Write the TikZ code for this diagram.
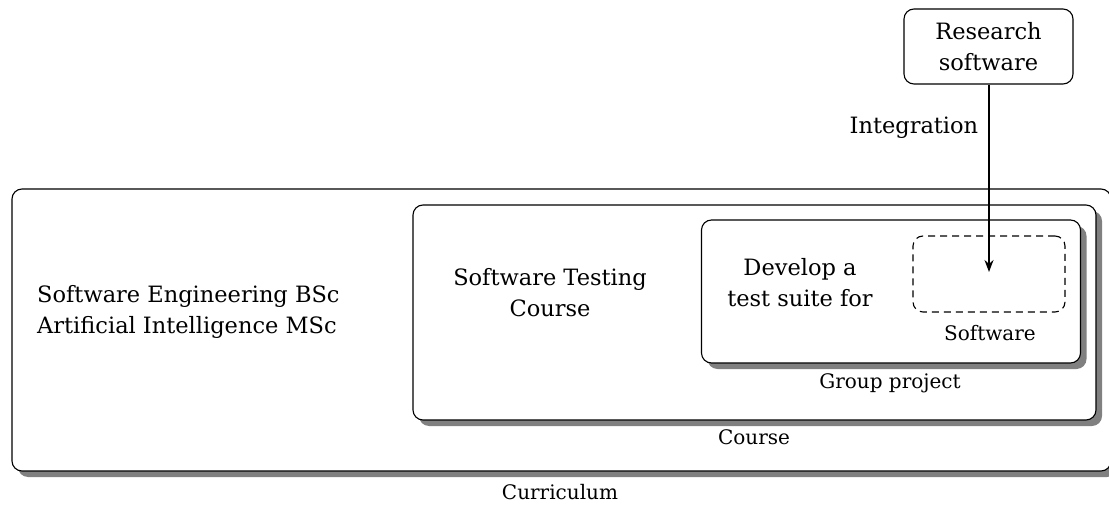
\documentclass[tikz,border=0pt]{standalone}
\usepackage{fontspec}
\setmainfont{DejaVu Serif}
\usetikzlibrary{shadows,arrows.meta}
\tikzset{
  box/.style={draw=black, line width=1.1pt, rounded corners=10pt, fill=white,
    drop shadow={shadow xshift=6pt, shadow yshift=-6pt, fill=gray, opacity=1}},
  plainbox/.style={draw=black, line width=1.1pt, rounded corners=10pt, fill=white},
  dashbox/.style={draw=black, line width=1.1pt, rounded corners=10pt, dash pattern=on 7pt off 5pt},
  bigtxt/.style={font=\fontsize{22.5}{31}\selectfont, inner sep=0pt},
  smalltxt/.style={font=\fontsize{20}{25}\selectfont, inner sep=0pt},
  arr/.style={line width=1.6pt, -{Stealth[length=12pt,width=9pt]}}
}
\begin{document}
\begin{tikzpicture}[x=1pt,y=-1pt]
\useasboundingbox (0,0) rectangle (1109,505);
% curriculum
\node[box, minimum width=1099pt, minimum height=282pt] (curr) at (561.5,330) {};
\node[smalltxt] (currlbl) at (560,492) {Curriculum};
\node[bigtxt, anchor=west, align=left] (prog) at (37,312) {Software Engineering BSc\\Artificial Intelligence MSc};
% course
\node[box, minimum width=683pt, minimum height=215pt] (course) at (754.5,312.5) {};
\node[smalltxt] (courselbl) at (754,437) {Course};
\node[bigtxt, align=center] (stc) at (550,293) {Software Testing\\Course};
% group project
\node[box, minimum width=379pt, minimum height=143pt] (group) at (891,291.5) {};
\node[smalltxt] (grouplbl) at (890,383) {Group project};
\node[bigtxt, align=center] (dev) at (800,283) {Develop a\\test suite for};
% software
\node[dashbox, minimum width=152pt, minimum height=76pt] (sw) at (989,274) {};
\node[smalltxt] (swlbl) at (990,333) {Software};
% research software
\node[plainbox, minimum width=169pt, minimum height=75pt, bigtxt, align=center] (rs) at (988.5,46.5) {Research\\software};
\coordinate (tip) at (989,272);
\draw[arr] (rs.south -| tip) -- node[pos=0.23, left=10pt, bigtxt] (integ) {Integration} (tip);
\end{tikzpicture}
\end{document}
